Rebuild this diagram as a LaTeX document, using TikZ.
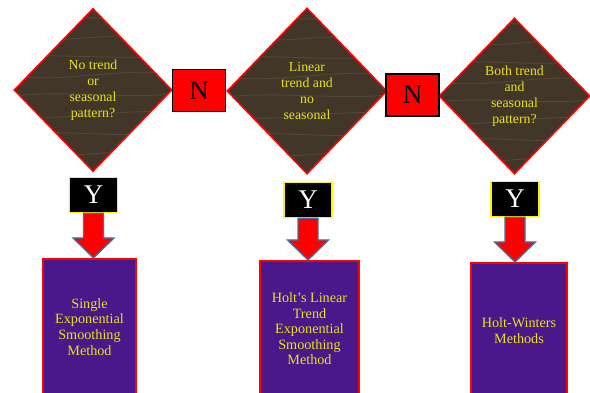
\documentclass[tikz,border=0pt]{standalone}
\usepackage{fontspec}
\setmainfont{Liberation Serif}
\usetikzlibrary{shapes.geometric,calc}

\definecolor{wood}{RGB}{66,54,41}
\definecolor{woodstreak}{RGB}{120,104,82}
\definecolor{velvet}{RGB}{74,24,138}
\definecolor{label}{RGB}{232,226,24}
\definecolor{arrowrim}{RGB}{65,113,156}

\tikzset{
    question/.style={diamond, draw=red, line width=1.6pt, fill=wood,
        inner sep=0pt, text=label, align=center,
        font=\fontsize{13.8}{16}\selectfont,
        path picture={
            \foreach \k/\a/\b in {-64/6/-4,-44/-5/7,-25/8/-6,-6/-6/5,14/7/-7,33/-4/6,52/6/-5,70/-7/4}
                {\draw[woodstreak, opacity=.4, line width=.8pt]
                    ([yshift=\k pt]path picture bounding box.west)
                    .. controls +(50,\a) and +(-50,\b) .. ([yshift=\k pt+2pt]path picture bounding box.east);}
        }},
    nobox/.style={draw=black, line width=1.6pt, fill=red, minimum width=53pt,
        minimum height=42pt, inner sep=0pt, font=\fontsize{27}{27}\selectfont},
    yesbox/.style={draw=yellow, line width=1.6pt, fill=black, text=white,
        minimum width=48pt, minimum height=35pt, inner sep=0pt,
        font=\fontsize{27}{27}\selectfont},
    method/.style={draw=red, line width=1.6pt, fill=velvet, text=label,
        anchor=north, minimum height=136pt, inner sep=0pt, align=center,
        font=\fontsize{14.2}{15.6}\selectfont},
    blockarrow/.style={fill=red, draw=arrowrim, line width=1.3pt, line join=miter}
}

\begin{document}
\begin{tikzpicture}[x=1pt, y=-1pt]
        \useasboundingbox (0,0) rectangle (590,393);
        \clip (0,0) rectangle (590,393);

        % questions
        \node[question, minimum width=158pt, minimum height=163pt] (q1) at (93,90)
            {No trend\\or\\seasonal\\pattern?};
        \node[question, minimum width=160pt, minimum height=166pt] (q2) at (307,91)
            {Linear\\trend and\\no\\seasonal};
        \node[question, minimum width=151pt, minimum height=156pt] (q3) at (514.5,96)
            {Both trend\\and\\seasonal\\pattern?};

        \node[nobox] (n1) at (199,90.5) {N};
        \node[nobox] (n2) at (412.5,95) {N};

        \foreach \i/\x/\y in {1/93.5/195,2/308/200,3/515/199}
            {\node[yesbox] (y\i) at (\x,\y) {Y};}

        % methods
        \node[method, minimum width=93pt] (m1) at (89.5,258)
            {Single\\Exponential\\Smoothing\\Method};
        \node[method, minimum width=99pt] (m2) at (309.5,260)
            {Holt's Linear\\Trend\\Exponential\\Smoothing\\Method};
        \node[method, minimum width=96pt] (m3) at (519,262)
            {Holt-Winters\\Methods};

        \foreach \i in {1,2,3}
            {\coordinate (t\i) at (m\i.north -| y\i.south);
             \draw[blockarrow] ($(y\i.south)+(-10,0)$) -- ($(t\i)+(-10,-20)$)
                -- ($(t\i)+(-20.5,-20)$) -- (t\i) -- ($(t\i)+(20.5,-20)$)
                -- ($(t\i)+(10,-20)$) -- ($(y\i.south)+(10,0)$) -- cycle;}
    \end{tikzpicture}
\end{document}
